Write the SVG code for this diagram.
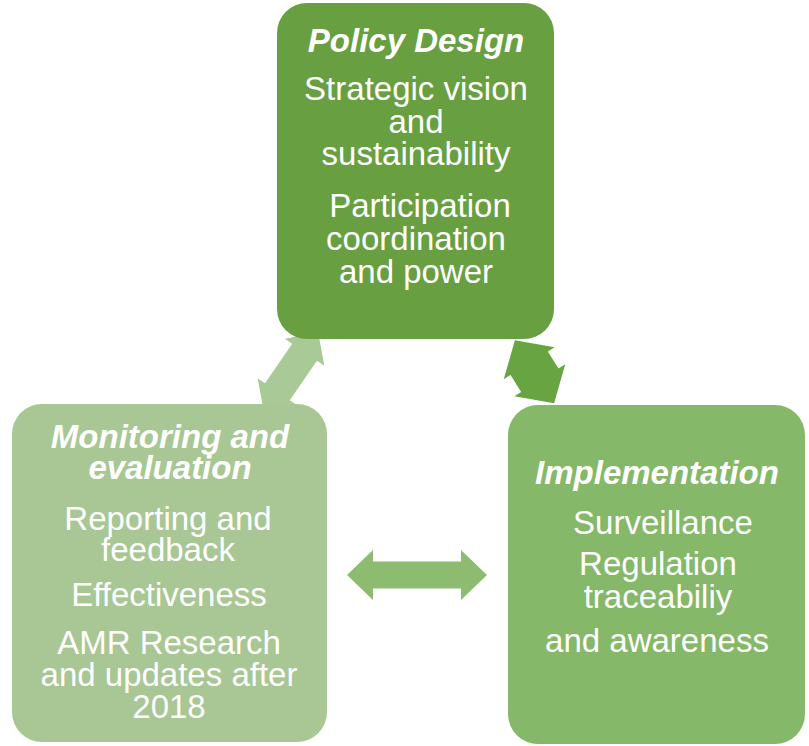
<svg xmlns="http://www.w3.org/2000/svg" width="809" height="746" viewBox="0 0 809 746">
  <defs>
    <style>
      .node-text { font-family: "Liberation Sans", Arial, sans-serif; font-size: 33px; fill: #ffffff; text-anchor: middle; }
      .title { font-weight: bold; font-style: italic; }
      .dark { fill: #68a041; }
      .mid { fill: #85b868; }
      .light { fill: #a8c795; }
    </style>
  </defs>
  <rect width="809" height="746" fill="#ffffff"/>

  <!-- double-headed block arrows, drawn beneath the boxes -->
  <g id="connectors">
    <!-- monitoring <-> policy design -->
    <path transform="translate(291,372) rotate(-55.5)" fill="#a9c996"
          d="M-48,0 L-24,-24 L-24,-15 L24,-15 L24,-24 L48,0 L24,24 L24,15 L-24,15 L-24,24 Z"/>
    <!-- policy design <-> implementation -->
    <path transform="translate(534.5,371.75) rotate(58)" fill="#68a542"
          d="M-37,0 L-10,-30 L-10,-22 L10,-22 L10,-30 L37,0 L10,30 L10,22 L-10,22 L-10,30 Z"/>
    <!-- monitoring <-> implementation -->
    <path transform="translate(417,575)" fill="#8dbc71"
          d="M-70,0 L-44,-25 L-44,-13.5 L44,-13.5 L44,-25 L70,0 L44,25 L44,13.5 L-44,13.5 L-44,25 Z"/>
  </g>

  <g id="policy-design">
    <rect class="dark" x="277" y="3" width="277" height="336" rx="30" ry="30"/>
    <text class="node-text title" x="416" y="52">Policy Design</text>
    <text class="node-text" x="416" y="100">Strategic vision</text>
    <text class="node-text" x="416" y="133">and</text>
    <text class="node-text" x="416" y="165">sustainability</text>
    <text class="node-text" x="420" y="217">Participation</text>
    <text class="node-text" x="416" y="250">coordination</text>
    <text class="node-text" x="416" y="283">and power</text>
  </g>

  <g id="monitoring-evaluation">
    <rect class="light" x="12" y="404" width="315" height="338" rx="30" ry="30"/>
    <text class="node-text title" x="170" y="448">Monitoring and</text>
    <text class="node-text title" x="170" y="479">evaluation</text>
    <text class="node-text" x="168" y="530">Reporting and</text>
    <text class="node-text" x="168" y="561">feedback</text>
    <text class="node-text" x="169" y="606">Effectiveness</text>
    <text class="node-text" x="169" y="654">AMR Research</text>
    <text class="node-text" x="169" y="686">and updates after</text>
    <text class="node-text" x="169" y="718">2018</text>
  </g>

  <g id="implementation">
    <rect class="mid" x="508" y="405" width="297" height="339" rx="30" ry="30"/>
    <text class="node-text title" x="657" y="484">Implementation</text>
    <text class="node-text" x="663" y="534">Surveillance</text>
    <text class="node-text" x="658" y="575">Regulation</text>
    <text class="node-text" x="658" y="608">traceabiliy</text>
    <text class="node-text" x="657" y="652">and awareness</text>
  </g>
</svg>
